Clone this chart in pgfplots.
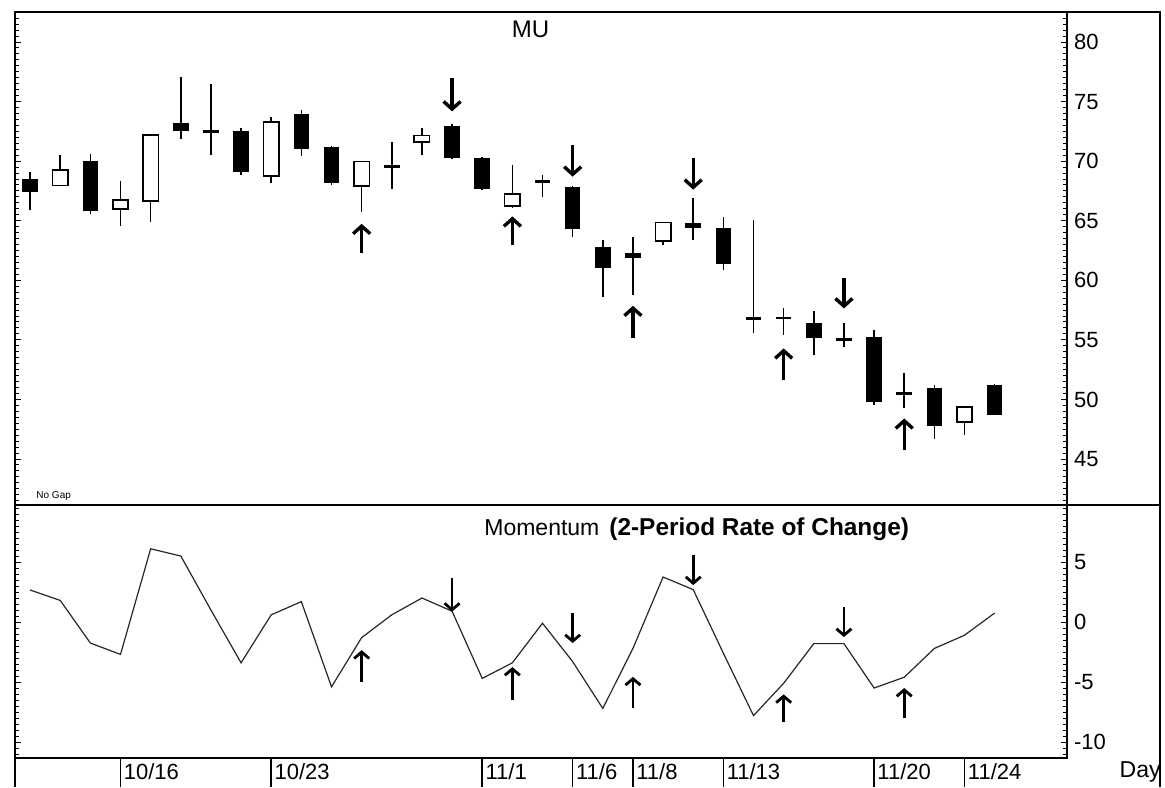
\documentclass[border=0pt]{standalone}
\usepackage{fontspec}
\setmainfont{Liberation Sans}
\usepackage{pgfplots}
\pgfplotsset{compat=1.18}
\usepackage{pgfplotstable}
\usetikzlibrary{arrows.meta,calc}

% candles: black = close below open (dojis kept here too)
\pgfplotstableread{
x  open  high  low   close
1  68.50 69.10 65.90 67.40
3  70.00 70.60 65.60 65.80
6  73.20 77.10 71.90 72.55
7  72.65 76.50 70.50 72.40
8  72.55 72.80 68.80 69.10
10 74.00 74.30 70.40 71.00
11 71.20 71.30 68.00 68.14
13 69.66 71.60 67.70 69.42
15 72.97 73.10 70.20 70.24
16 70.30 70.35 67.60 67.66
18 68.38 68.80 67.00 68.15
19 67.80 67.90 63.60 64.28
20 62.80 63.40 58.60 61.00
21 62.26 63.66 58.76 61.84
23 64.83 66.90 63.40 64.40
24 64.36 65.30 60.86 61.37
25 56.93 65.06 55.55 56.70
26 56.95 57.65 55.40 56.72
27 56.39 57.40 53.73 55.13
28 55.17 56.44 54.40 54.94
29 55.27 55.80 49.53 49.80
30 50.62 52.20 49.25 50.40
31 50.93 51.20 46.65 47.77
33 51.20 51.30 48.70 48.70
}\blackcandles

\pgfplotstableread{
x  open  high  low   close
2  67.90 70.50 67.90 69.34
4  65.90 68.30 64.60 66.80
5  66.60 72.25 64.90 72.25
9  68.70 73.70 68.20 73.37
12 67.86 70.04 65.76 70.04
14 71.55 72.76 70.50 72.20
17 66.18 69.70 66.10 67.30
22 63.24 64.92 62.96 64.92
32 48.05 49.45 47.00 49.45
}\whitecandles

\pgfplotstableread{
x  m
1  2.67
2  1.80
3  -1.75
4  -2.70
5  6.10
6  5.50
7  1.00
8  -3.40
9  0.60
10 1.70
11 -5.40
12 -1.30
13 0.60
14 2.00
15 0.90
16 -4.70
17 -3.40
18 -0.10
19 -3.30
20 -7.20
21 -2.20
22 3.75
23 2.70
24 -2.60
25 -7.80
26 -5.10
27 -1.80
28 -1.80
29 -5.50
30 -4.60
31 -2.20
32 -1.10
33 0.75
}\momentum

\pgfplotstableread{
x  y      v
12 62.29  2.45
15 76.98  -2.80
17 62.96  2.40
19 71.35  -2.65
21 55.16  2.70
23 70.26  -2.65
26 51.63  2.65
28 60.19  -2.55
30 45.75  2.65
}\toparrows

\pgfplotstableread{
x  y      v
12 -5.00  2.65
15 3.67   -2.80
17 -6.50  2.75
19 0.75   -2.50
21 -7.17  2.60
23 5.58   -2.50
26 -8.33  2.30
28 1.25   -2.50
30 -8.00  2.50
}\botarrows

\pgfplotsset{
  body/.style 2 args={draw=none, mark=none, forget plot,
    error bars/.cd, y dir=both, y explicit, error mark=none,
    error bar style={draw=#1, line width=#2}},
  panel/.style={scale only axis, width=526pt, xmin=0.5, xmax=35.4,
    axis line style={line width=0.9pt},
    tick align=inside, major tick length=3pt, minor tick length=2pt,
    tick style={black, line width=0.5pt},
    yticklabel pos=right, ytick pos=both,
    minor y tick num=9,
    tick label style={font=\fontsize{11}{13}\selectfont},
    /pgf/number format/assume math mode=true},
}

\begin{document}
\begin{tikzpicture}
\useasboundingbox (-7.5pt,-141pt) rectangle (575pt,252.5pt);

\begin{axis}[panel, name=top, at={(0,0)}, anchor=south west,
  height=246.5pt, ymin=41.14, ymax=82.52,
  xtick=\empty, ytick={40,45,...,85},
  title={MU}, title style={at={(0.49,1)}, anchor=north, yshift=-7pt,
    font=\fontsize{12}{14}\selectfont}]
% wicks
\addplot[body={black}{0.8pt}] table[x=x, y expr={(\thisrow{high}+\thisrow{low})/2},
  y error expr={(\thisrow{high}-\thisrow{low})/2}] {\blackcandles};
\addplot[body={black}{0.8pt}] table[x=x, y expr={(\thisrow{high}+\thisrow{low})/2},
  y error expr={(\thisrow{high}-\thisrow{low})/2}] {\whitecandles};
% bodies
\addplot[body={black}{7.75pt}] table[x=x, y expr={(\thisrow{open}+\thisrow{close})/2},
  y error expr={abs(\thisrow{close}-\thisrow{open})/2}] {\blackcandles};
\addplot[body={black}{8.5pt}] table[x=x, y expr={(\thisrow{open}+\thisrow{close})/2},
  y error expr={abs(\thisrow{close}-\thisrow{open})/2}] {\whitecandles};
\addplot[body={white}{6.9pt}] table[x=x, y expr={(\thisrow{open}+\thisrow{close})/2},
  y error expr={abs(\thisrow{close}-\thisrow{open})/2-0.13}] {\whitecandles};
% signal arrows
\addplot[black, line width=1.7pt, quiver={u=0, v=\thisrow{v}},
  -{Straight Barb[length=3.8pt, width=8.5pt]}] table[x=x, y=y] {\toparrows};
\node[anchor=south west, inner sep=0pt, font=\fontsize{5}{6}\selectfont]
  at (rel axis cs:0.02,0.008) {No Gap};
\end{axis}

\begin{axis}[panel, name=bot, at={(top.south west)}, anchor=north west,
  height=126.5pt, ymin=-11.33, ymax=9.75, clip=false,
  ytick={-15,-10,...,10},
  xtick={4,9,16,19,21,24,29,32},
  xticklabels={10/16,10/23,11/1,11/6,11/8,11/13,11/20,11/24},
  xtick style={draw=none},
  xticklabel style={anchor=north west, inner xsep=1.5pt, inner ysep=2.5pt,
    font=\fontsize{11}{13}\selectfont},
  title={\fontsize{11.5}{13}\selectfont Momentum\hspace{5pt}\textbf{\fontsize{12.2}{14}\selectfont (2-Period Rate of Change)}},
  title style={at={(0.648,1)}, anchor=north, yshift=-9pt}]
\addplot[black!85, line width=0.6pt, mark=none] table[x=x, y=m] {\momentum};
\addplot[black, line width=1.4pt, quiver={u=0, v=\thisrow{v}},
  -{Straight Barb[length=3.2pt, width=7.5pt]}] table[x=x, y=y] {\botarrows};
% date dividers below the axis
\addplot[body={black}{0.8pt}] coordinates {
  (4,-12.54) +- (0,1.21) (9,-12.54) +- (0,1.21) (16,-12.54) +- (0,1.21)
  (19,-12.54) +- (0,1.21) (21,-12.54) +- (0,1.21) (24,-12.54) +- (0,1.21)
  (29,-12.54) +- (0,1.21) (32,-12.54) +- (0,1.21)};
\end{axis}

\draw[line width=0.9pt] (top.north east) -- ++(46.5pt,0) -- ++(0,-387.5pt);
\draw[line width=0.9pt] (top.south east) -- ++(46.5pt,0);
\draw[line width=0.9pt] (bot.south west) -- ++(0,-14.5pt);
\node[anchor=east, inner sep=0pt, font=\fontsize{11.5}{13}\selectfont]
  at ($(bot.south east)+(47pt,-7pt)$) {Day};
\end{tikzpicture}
\end{document}
